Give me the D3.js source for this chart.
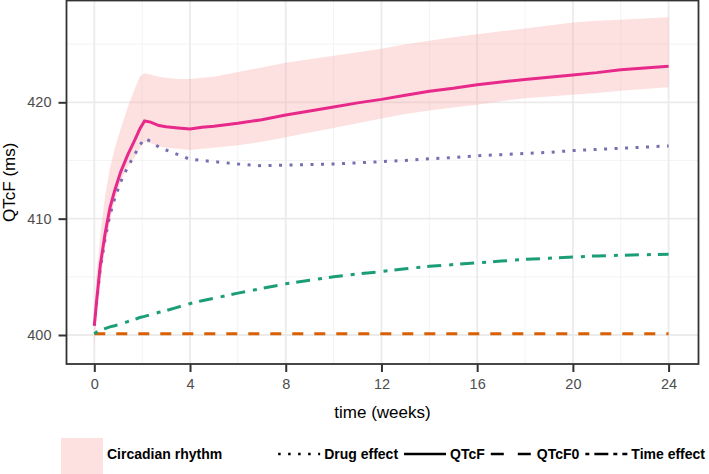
<!DOCTYPE html>
<html><head><meta charset="utf-8">
<script src="https://cdn.jsdelivr.net/npm/d3@7"></script>
<style>body{margin:0;background:#fff}svg{display:block}</style>
</head><body>
<svg id="c" width="709" height="474"></svg>
<script>
const time = [0,0.1,0.25,0.45,0.65,0.85,1.1,1.4,1.7,1.9,2.1,2.35,2.7,3,3.5,4,4.5,5,6,7,8,9,10,11,12,13,14,15,16,17,18,19,20,21,22,23,24];
const qtcf = [400.8,403.0,406.0,408.7,410.9,412.4,414.0,415.5,416.8,417.7,418.4,418.3,418.0,417.9,417.8,417.7,417.85,417.95,418.2,418.5,418.9,419.25,419.6,419.95,420.25,420.6,420.95,421.2,421.5,421.75,421.95,422.15,422.35,422.55,422.8,422.95,423.1];
const drugEffect = [400.8,402.85,405.7,408.25,410.3,411.7,413.15,414.45,415.55,416.3,416.9,416.65,416.15,415.9,415.5,415.1,415.0,414.9,414.7,414.55,414.6,414.65,414.7,414.8,414.9,415.0,415.15,415.25,415.4,415.5,415.6,415.7,415.85,415.95,416.05,416.15,416.25];
const timeEffect = [400.1,400.25,400.4,400.55,400.7,400.8,400.95,401.15,401.35,401.5,401.6,401.75,401.95,402.1,402.4,402.7,402.95,403.15,403.6,404.0,404.4,404.7,405.0,405.25,405.45,405.7,405.9,406.05,406.2,406.35,406.5,406.6,406.7,406.8,406.85,406.9,406.95];
const qtcf0 = [400.1,400.1,400.1,400.1,400.1,400.1,400.1,400.1,400.1,400.1,400.1,400.1,400.1,400.1,400.1,400.1,400.1,400.1,400.1,400.1,400.1,400.1,400.1,400.1,400.1,400.1,400.1,400.1,400.1,400.1,400.1,400.1,400.1,400.1,400.1,400.1,400.1];
const circUpper = [402.5,405.5,408.5,412.0,414.3,416.0,417.7,419.6,421.2,422.2,422.5,422.4,422.2,422.1,422.0,422.0,422.1,422.2,422.6,423.0,423.4,423.7,424.0,424.3,424.6,425.0,425.3,425.6,425.85,426.1,426.35,426.6,426.85,427.0,427.1,427.2,427.3];
const circLower = [398.9,401.5,404.5,407.5,409.7,411.5,413.2,414.5,415.3,416.0,416.6,416.5,416.2,416.1,416.0,415.9,416.0,416.1,416.3,416.6,417.0,417.4,417.8,418.2,418.6,419.0,419.3,419.55,419.8,420.1,420.35,420.5,420.65,420.8,421.0,421.15,421.3];
const xTicks = [0,4,8,12,16,20,24];
const xMinor = [2,6,10,14,18,22];
const yTicks = [400,410,420];
const yMinor = [405,415,425];
const legendItems = ["Drug effect","QTcF","QTcF0","Time effect"];

const FONT = "'Liberation Sans',Arial,sans-serif";
const svg = d3.select("#c");
const P = {l:66.5, r:698.5, t:0.5, b:364};
const x = d3.scaleLinear().domain([0,24]).range([94.3,668.6]);
const y = d3.scaleLinear().domain([400,420]).range([335,102.3]);

// grid
const g = svg.append("g");
g.selectAll(".xm").data(xMinor).join("line").attr("x1",d=>x(d)).attr("x2",d=>x(d)).attr("y1",P.t).attr("y2",P.b).attr("stroke","#f2f2f2").attr("stroke-width",0.9);
g.selectAll(".ym").data(yMinor).join("line").attr("y1",d=>y(d)).attr("y2",d=>y(d)).attr("x1",P.l).attr("x2",P.r).attr("stroke","#f2f2f2").attr("stroke-width",0.9);
g.selectAll(".xM").data(xTicks).join("line").attr("x1",d=>x(d)).attr("x2",d=>x(d)).attr("y1",P.t).attr("y2",P.b).attr("stroke","#ebebeb").attr("stroke-width",1.8);
g.selectAll(".yM").data(yTicks).join("line").attr("y1",d=>y(d)).attr("y2",d=>y(d)).attr("x1",P.l).attr("x2",P.r).attr("stroke","#ebebeb").attr("stroke-width",1.8);

const rows = time.map((t,i)=>({t, q:qtcf[i], d:drugEffect[i], te:timeEffect[i], q0:qtcf0[i], u:circUpper[i], lo:circLower[i]}));

svg.append("path").datum(rows)
  .attr("d", d3.area().x(d=>x(d.t)).y0(d=>y(d.lo)).y1(d=>y(d.u)))
  .attr("fill","#f9a8a8").attr("fill-opacity",0.35);

const line = k => d3.line().x(d=>x(d.t)).y(d=>y(d[k]));
svg.append("path").datum(rows).attr("d",line("q0")).attr("fill","none").attr("stroke","#d95f02").attr("stroke-width",3).attr("stroke-dasharray","11,11");
svg.append("path").datum(rows).attr("d",line("te")).attr("fill","none").attr("stroke","#1b9e77").attr("stroke-width",3).attr("stroke-dasharray","4,7,14,8");
svg.append("path").datum(rows).attr("d",line("d")).attr("fill","none").attr("stroke","#7570b3").attr("stroke-width",3).attr("stroke-dasharray","3,7.5");
svg.append("path").datum(rows).attr("d",line("q")).attr("fill","none").attr("stroke","#e7298a").attr("stroke-width",3);

// border
svg.append("rect").attr("x",P.l).attr("y",P.t).attr("width",P.r-P.l).attr("height",P.b-P.t).attr("fill","none").attr("stroke","#333").attr("stroke-width",1.8);

// axes
const xa = svg.append("g").attr("transform",`translate(0,${P.b})`).call(d3.axisBottom(x).tickValues(xTicks).tickSize(8).tickPadding(7));
const ya = svg.append("g").attr("transform",`translate(${P.l},0)`).call(d3.axisLeft(y).tickValues(yTicks).tickSize(8).tickPadding(7));
[xa,ya].forEach(a=>{
  a.select(".domain").remove();
  a.selectAll(".tick line").attr("stroke","#333").attr("stroke-width",2);
  a.selectAll(".tick text").attr("fill","#4d4d4d").style("font-family",FONT).style("font-size","14.5px");
});

svg.append("text").attr("x",(P.l+P.r)/2).attr("y",418).attr("text-anchor","middle").style("font-family",FONT).style("font-size","17px").text("time (weeks)");
svg.append("text").attr("transform",`translate(15,${(P.t+P.b)/2}) rotate(-90)`).attr("text-anchor","middle").style("font-family",FONT).style("font-size","17px").text("QTcF (ms)");

// legend
const lg = svg.append("g").style("font-family",FONT).style("font-size","14px").style("font-weight","bold");
lg.append("rect").attr("x",61).attr("y",438).attr("width",42).attr("height",36).attr("fill","#f9a8a8").attr("fill-opacity",0.35);
lg.append("text").attr("x",107).attr("y",459).text("Circadian rhythm");
const dashes = ["2.5,7.5", null, "13,14", "4,5,14,5"];
const KEY = 42, GAP1 = 4, GAP2 = 6;
// lay out from right edge
let cursor = 705;
const placed = [];
for (let i = legendItems.length - 1; i >= 0; i--) {
  const t = lg.append("text").attr("y",459).text(legendItems[i]);
  const w = t.node().getComputedTextLength();
  cursor -= w; t.attr("x", cursor);
  cursor -= GAP1;
  const ln = lg.append("line").attr("x1",cursor-KEY).attr("x2",cursor).attr("y1",454).attr("y2",454).attr("stroke","#000").attr("stroke-width",2.5);
  if (dashes[i]) ln.attr("stroke-dasharray",dashes[i]);
  cursor -= KEY + GAP2;
}
</script>
</body></html>
